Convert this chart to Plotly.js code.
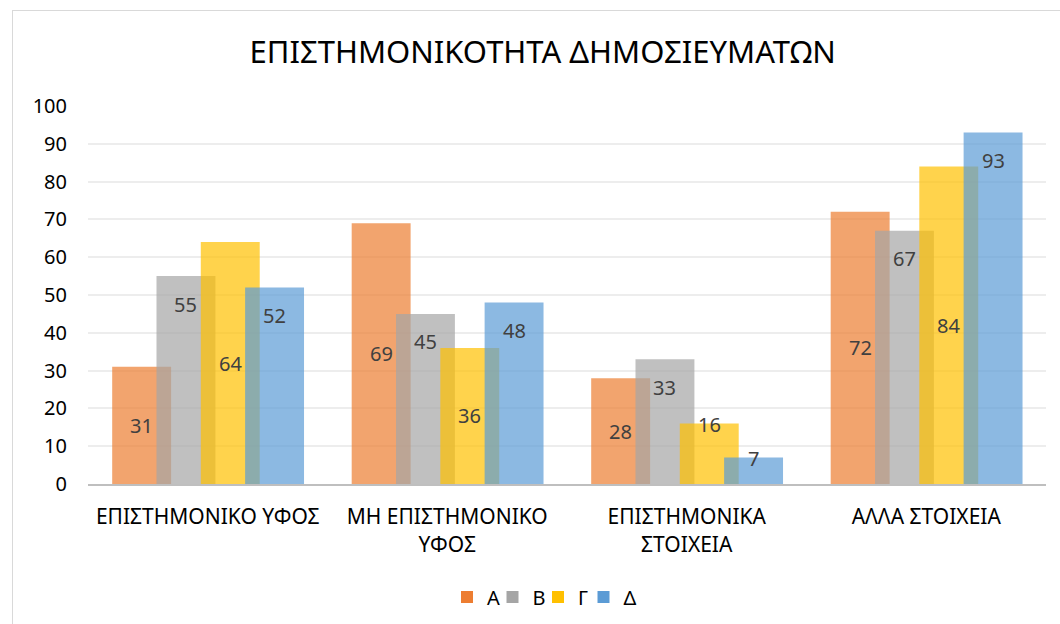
<!DOCTYPE html>
<html>
<head>
<meta charset="utf-8">
<script src="https://cdn.plot.ly/plotly-3.0.1.min.js"></script>
<style>
  html, body { margin: 0; padding: 0; background: #fff; }
  #wrap { position: relative; width: 1060px; height: 624px; overflow: hidden; }
  #chart { width: 1060px; height: 624px; }
  #frame { position: absolute; left: 12px; top: 10px; width: 1100px; height: 700px;
           border: 1px solid #d9d9d9; pointer-events: none; box-sizing: border-box; }
</style>
</head>
<body>
<div id="wrap">
  <div id="chart"></div>
  <div id="frame"></div>
</div>
<script>
const categories = [
  "ΕΠΙΣΤΗΜΟΝΙΚΟ ΥΦΟΣ",
  "ΜΗ ΕΠΙΣΤΗΜΟΝΙΚΟ<br>ΥΦΟΣ",
  "ΕΠΙΣΤΗΜΟΝΙΚΑ<br>ΣΤΟΙΧΕΙΑ",
  "ΑΛΛΑ ΣΤΟΙΧΕΙΑ"
];
const seriesNames = ["Α", "Β", "Γ", "Δ"];
const valuesA = [31, 69, 28, 72];
const valuesB = [55, 45, 33, 67];
const valuesG = [64, 36, 16, 84];
const valuesD = [52, 48, 7, 93];
const yTicks = [0, 10, 20, 30, 40, 50, 60, 70, 80, 90, 100];

const FONT = "Noto Sans, Open Sans, sans-serif";
const colors = ["#ED7D31", "#A5A5A5", "#FFC000", "#5B9BD5"];
const offsets = [-0.399, -0.214, -0.029, 0.156];
const barWidth = 0.246;
const allValues = [valuesA, valuesB, valuesG, valuesD];
// label placement style: "center" of bar, or "end" (just inside top)
const placement = ["center", "end", "center", "end"];

const traces = allValues.map((vals, i) => ({
  type: "bar",
  name: seriesNames[i],
  x: categories,
  y: vals,
  offset: offsets[i],
  width: barWidth,
  marker: { color: colors[i], opacity: 0.7, line: { width: 0 } },
  hoverinfo: "skip"
}));

const annotations = [];
allValues.forEach((vals, i) => {
  vals.forEach((v, j) => {
    let y = placement[i] === "center" ? v / 2 : v;
    let yshift = placement[i] === "center" ? 0 : -28;
    if (v < 20) { y = v; yshift = -1; }
    annotations.push({
      xref: "x", yref: "y",
      x: j + offsets[i] + barWidth / 2,
      y: y, yshift: yshift,
      text: String(v),
      showarrow: false,
      xanchor: "center", yanchor: "middle",
      font: { family: FONT, size: 20, color: "#404040" }
    });
  });
});

const layout = {
  width: 1060,
  height: 624,
  margin: { l: 88, r: 14, t: 106, b: 140 },
  paper_bgcolor: "#ffffff",
  plot_bgcolor: "#ffffff",
  barmode: "overlay",
  showlegend: true,
  annotations: annotations,
  title: {
    text: "ΕΠΙΣΤΗΜΟΝΙΚΟΤΗΤΑ ΔΗΜΟΣΙΕΥΜΑΤΩΝ",
    font: { family: FONT, size: 31, color: "#000000" },
    x: 0.512, xref: "container", xanchor: "center",
    y: 0.917, yref: "container", yanchor: "middle"
  },
  xaxis: {
    type: "category",
    tickfont: { family: FONT, size: 21, color: "#000000" },
    showline: true, linecolor: "#bfbfbf", linewidth: 2,
    showgrid: false, ticks: "", ticklen: 0,
    ticklabelstandoff: 13,
    automargin: false,
    fixedrange: true
  },
  yaxis: {
    range: [0, 100],
    tickvals: yTicks,
    ticktext: yTicks.map(String),
    tickfont: { family: FONT, size: 20, color: "#000000" },
    showgrid: true, gridcolor: "#ededed", gridwidth: 2,
    zeroline: false, showline: false, ticks: "",
    ticklabelstandoff: 20,
    automargin: false,
    fixedrange: true
  },
  legend: {
    orientation: "h",
    xref: "container", yref: "container",
    x: 447 / 1060, xanchor: "left",
    y: 1 - 597 / 624, yanchor: "middle",
    font: { family: FONT, size: 20, color: "#000000" },
    itemwidth: 30,
    entrywidth: 0.5,
    entrywidthmode: "pixels",
    traceorder: "normal"
  }
};

Plotly.newPlot("chart", traces, layout, { displayModeBar: false, staticPlot: true })
  .then(gd => {
    // let the compact legend's last label show in full
    gd.querySelectorAll(".legend .scrollbox, .legend").forEach(el => el.removeAttribute("clip-path"));
  });
</script>
</body>
</html>
